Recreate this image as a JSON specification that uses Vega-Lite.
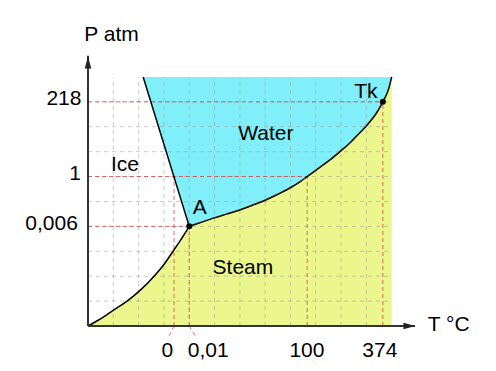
{
  "$schema": "https://vega.github.io/schema/vega-lite/v6.json",
  "autosize": "none",
  "width": 329,
  "height": 274,
  "padding": {"left": 88, "top": 52, "right": 79, "bottom": 45},
  "background": "white",
  "config": {"view": {"stroke": null}, "text": {"font": "Liberation Sans"}},
  "datasets": {
    "curves": [
      {"curve": "sub", "x": 0, "p": 0},
      {"curve": "sub", "x": 0.35, "p": 0.2},
      {"curve": "sub", "x": 0.71, "p": 0.43},
      {"curve": "sub", "x": 1.1, "p": 0.7},
      {"curve": "sub", "x": 1.57, "p": 1.02},
      {"curve": "sub", "x": 2.1, "p": 1.47},
      {"curve": "sub", "x": 2.61, "p": 2.0},
      {"curve": "sub", "x": 3.0, "p": 2.47},
      {"curve": "sub", "x": 3.36, "p": 3.0},
      {"curve": "sub", "x": 3.67, "p": 3.47},
      {"curve": "sub", "x": 3.88, "p": 3.8},
      {"curve": "sub", "x": 4, "p": 4},
      {"curve": "vap", "x": 4, "p": 4},
      {"curve": "vap", "x": 4.1, "p": 4.035},
      {"curve": "vap", "x": 4.5, "p": 4.17},
      {"curve": "vap", "x": 4.95, "p": 4.33},
      {"curve": "vap", "x": 5.5, "p": 4.5},
      {"curve": "vap", "x": 6.02, "p": 4.67},
      {"curve": "vap", "x": 6.5, "p": 4.85},
      {"curve": "vap", "x": 7.02, "p": 5.06},
      {"curve": "vap", "x": 7.5, "p": 5.29},
      {"curve": "vap", "x": 8.01, "p": 5.56},
      {"curve": "vap", "x": 8.4, "p": 5.81},
      {"curve": "vap", "x": 8.66, "p": 6.0},
      {"curve": "vap", "x": 9.2, "p": 6.4},
      {"curve": "vap", "x": 9.6, "p": 6.7},
      {"curve": "vap", "x": 9.99, "p": 7.03},
      {"curve": "vap", "x": 10.4, "p": 7.4},
      {"curve": "vap", "x": 10.78, "p": 7.8},
      {"curve": "vap", "x": 11.1, "p": 8.15},
      {"curve": "vap", "x": 11.38, "p": 8.52},
      {"curve": "vap", "x": 11.65, "p": 9.0},
      {"curve": "vap", "x": 11.88, "p": 9.52},
      {"curve": "vap", "x": 12.0, "p": 10.0},
      {"curve": "ice", "x": 2.18, "p": 10},
      {"curve": "ice", "x": 3.9, "p": 4.33},
      {"curve": "ice", "x": 4, "p": 4}
    ],
    "grid": [
      {"dir": "v", "v": 1}, {"dir": "v", "v": 2}, {"dir": "v", "v": 3}, {"dir": "v", "v": 4},
      {"dir": "v", "v": 5}, {"dir": "v", "v": 6}, {"dir": "v", "v": 7}, {"dir": "v", "v": 8},
      {"dir": "v", "v": 9}, {"dir": "v", "v": 10}, {"dir": "v", "v": 11},
      {"dir": "h", "v": 1}, {"dir": "h", "v": 2}, {"dir": "h", "v": 3}, {"dir": "h", "v": 4},
      {"dir": "h", "v": 5}, {"dir": "h", "v": 6}, {"dir": "h", "v": 7}, {"dir": "h", "v": 8},
      {"dir": "h", "v": 9}
    ],
    "refs": [
      {"x": 0, "y": 4, "x2": 4, "y2": 4},
      {"x": 0, "y": 6, "x2": 8.66, "y2": 6},
      {"x": 0, "y": 9, "x2": 11.65, "y2": 9},
      {"x": 3.4, "y": 0, "x2": 3.4, "y2": 6},
      {"x": 4, "y": 0, "x2": 4, "y2": 4},
      {"x": 8.66, "y": 0, "x2": 8.66, "y2": 6},
      {"x": 11.65, "y": 0, "x2": 11.65, "y2": 9},
      {"x": 3.4, "y": 0, "x2": 3.18, "y2": -0.45},
      {"x": 4, "y": 0, "x2": 4.27, "y2": -0.45}
    ],
    "axes": [
      {"x": 0, "y": 0, "x2": 0, "y2": 10.85},
      {"x": 0, "y": 0, "x2": 12.92, "y2": 0}
    ],
    "points": [
      {"name": "A", "x": 4, "p": 4},
      {"name": "Tk", "x": 11.65, "p": 9}
    ],
    "labels": [
      {"x": 0.93, "y": 11.68, "t": "P atm"},
      {"x": 14.25, "y": 0.06, "t": "T °C"},
      {"x": 1.46, "y": 6.48, "t": "Ice"},
      {"x": 7.03, "y": 7.7, "t": "Water"},
      {"x": 6.12, "y": 2.33, "t": "Steam"},
      {"x": 4.42, "y": 4.72, "t": "A"},
      {"x": 10.98, "y": 9.4, "t": "Tk"},
      {"x": 3.14, "y": -1.0, "t": "0"},
      {"x": 4.75, "y": -1.0, "t": "0,01"},
      {"x": 8.65, "y": -1.0, "t": "100"},
      {"x": 11.53, "y": -1.0, "t": "374"},
      {"x": -0.95, "y": 9.1, "t": "218"},
      {"x": -0.51, "y": 6.1, "t": "1"},
      {"x": -1.44, "y": 4.1, "t": "0,006"}
    ]
  },
  "layer": [
    {
      "data": {"name": "curves"},
      "transform": [{"filter": "datum.curve != 'sub' && !(datum.curve == 'vap' && datum.x == 4)"}],
      "mark": {"type": "area", "color": "#80eff9", "opacity": 1, "interpolate": "monotone"},
      "encoding": {
        "x": {"field": "x", "type": "quantitative", "scale": {"domain": [0, 13]}, "axis": null},
        "y": {"field": "p", "type": "quantitative", "scale": {"domain": [0, 10.8]}, "axis": null},
        "y2": {"datum": 10}
      }
    },
    {
      "data": {"name": "curves"},
      "transform": [{"filter": "datum.curve != 'ice' && !(datum.curve == 'vap' && datum.x == 4)"}],
      "mark": {"type": "area", "color": "#ebf68d", "opacity": 1, "interpolate": "monotone"},
      "encoding": {
        "x": {"field": "x", "type": "quantitative"},
        "y": {"field": "p", "type": "quantitative"},
        "y2": {"datum": 0}
      }
    },
    {
      "data": {"name": "grid"},
      "transform": [{"filter": "datum.dir == 'v'"}],
      "mark": {"type": "rule", "color": "#a0a0a0", "opacity": 0.55, "strokeWidth": 1, "strokeDash": [4, 4]},
      "encoding": {
        "x": {"field": "v", "type": "quantitative"},
        "y": {"datum": 0},
        "y2": {"datum": 10}
      }
    },
    {
      "data": {"name": "grid"},
      "transform": [{"filter": "datum.dir == 'h'"}],
      "mark": {"type": "rule", "color": "#a0a0a0", "opacity": 0.55, "strokeWidth": 1, "strokeDash": [4, 4]},
      "encoding": {
        "y": {"field": "v", "type": "quantitative"},
        "x": {"datum": 0},
        "x2": {"datum": 12}
      }
    },
    {
      "data": {"name": "refs"},
      "mark": {"type": "rule", "color": "#d83a3a", "opacity": 0.75, "strokeWidth": 1, "strokeDash": [4, 3]},
      "encoding": {
        "x": {"field": "x", "type": "quantitative"},
        "y": {"field": "y", "type": "quantitative"},
        "x2": {"field": "x2"},
        "y2": {"field": "y2"}
      }
    },
    {
      "data": {"name": "curves"},
      "mark": {"type": "line", "color": "black", "strokeWidth": 1.5, "interpolate": "monotone"},
      "encoding": {
        "x": {"field": "x", "type": "quantitative"},
        "y": {"field": "p", "type": "quantitative"},
        "detail": {"field": "curve"}
      }
    },
    {
      "data": {"name": "axes"},
      "mark": {"type": "rule", "color": "#333333", "strokeWidth": 2},
      "encoding": {
        "x": {"field": "x", "type": "quantitative"},
        "y": {"field": "y", "type": "quantitative"},
        "x2": {"field": "x2"},
        "y2": {"field": "y2"}
      }
    },
    {
      "data": {"values": [{"x": 0, "y": 10.58}]},
      "mark": {"type": "point", "shape": "M0,-1L0.55,1L-0.55,1Z", "filled": true, "color": "#222222", "opacity": 1, "size": 144},
      "encoding": {
        "x": {"field": "x", "type": "quantitative"},
        "y": {"field": "y", "type": "quantitative"}
      }
    },
    {
      "data": {"values": [{"x": 12.7, "y": 0}]},
      "mark": {"type": "point", "shape": "M1,0L-1,-0.55L-1,0.55Z", "filled": true, "color": "#222222", "opacity": 1, "size": 144},
      "encoding": {
        "x": {"field": "x", "type": "quantitative"},
        "y": {"field": "y", "type": "quantitative"}
      }
    },
    {
      "data": {"name": "points"},
      "mark": {"type": "point", "shape": "circle", "filled": true, "color": "black", "opacity": 1, "size": 36},
      "encoding": {
        "x": {"field": "x", "type": "quantitative"},
        "y": {"field": "p", "type": "quantitative"}
      }
    },
    {
      "data": {"name": "labels"},
      "mark": {"type": "text", "fontSize": 21, "color": "black", "align": "center", "baseline": "middle"},
      "encoding": {
        "x": {"field": "x", "type": "quantitative"},
        "y": {"field": "y", "type": "quantitative"},
        "text": {"field": "t"}
      }
    }
  ]
}
